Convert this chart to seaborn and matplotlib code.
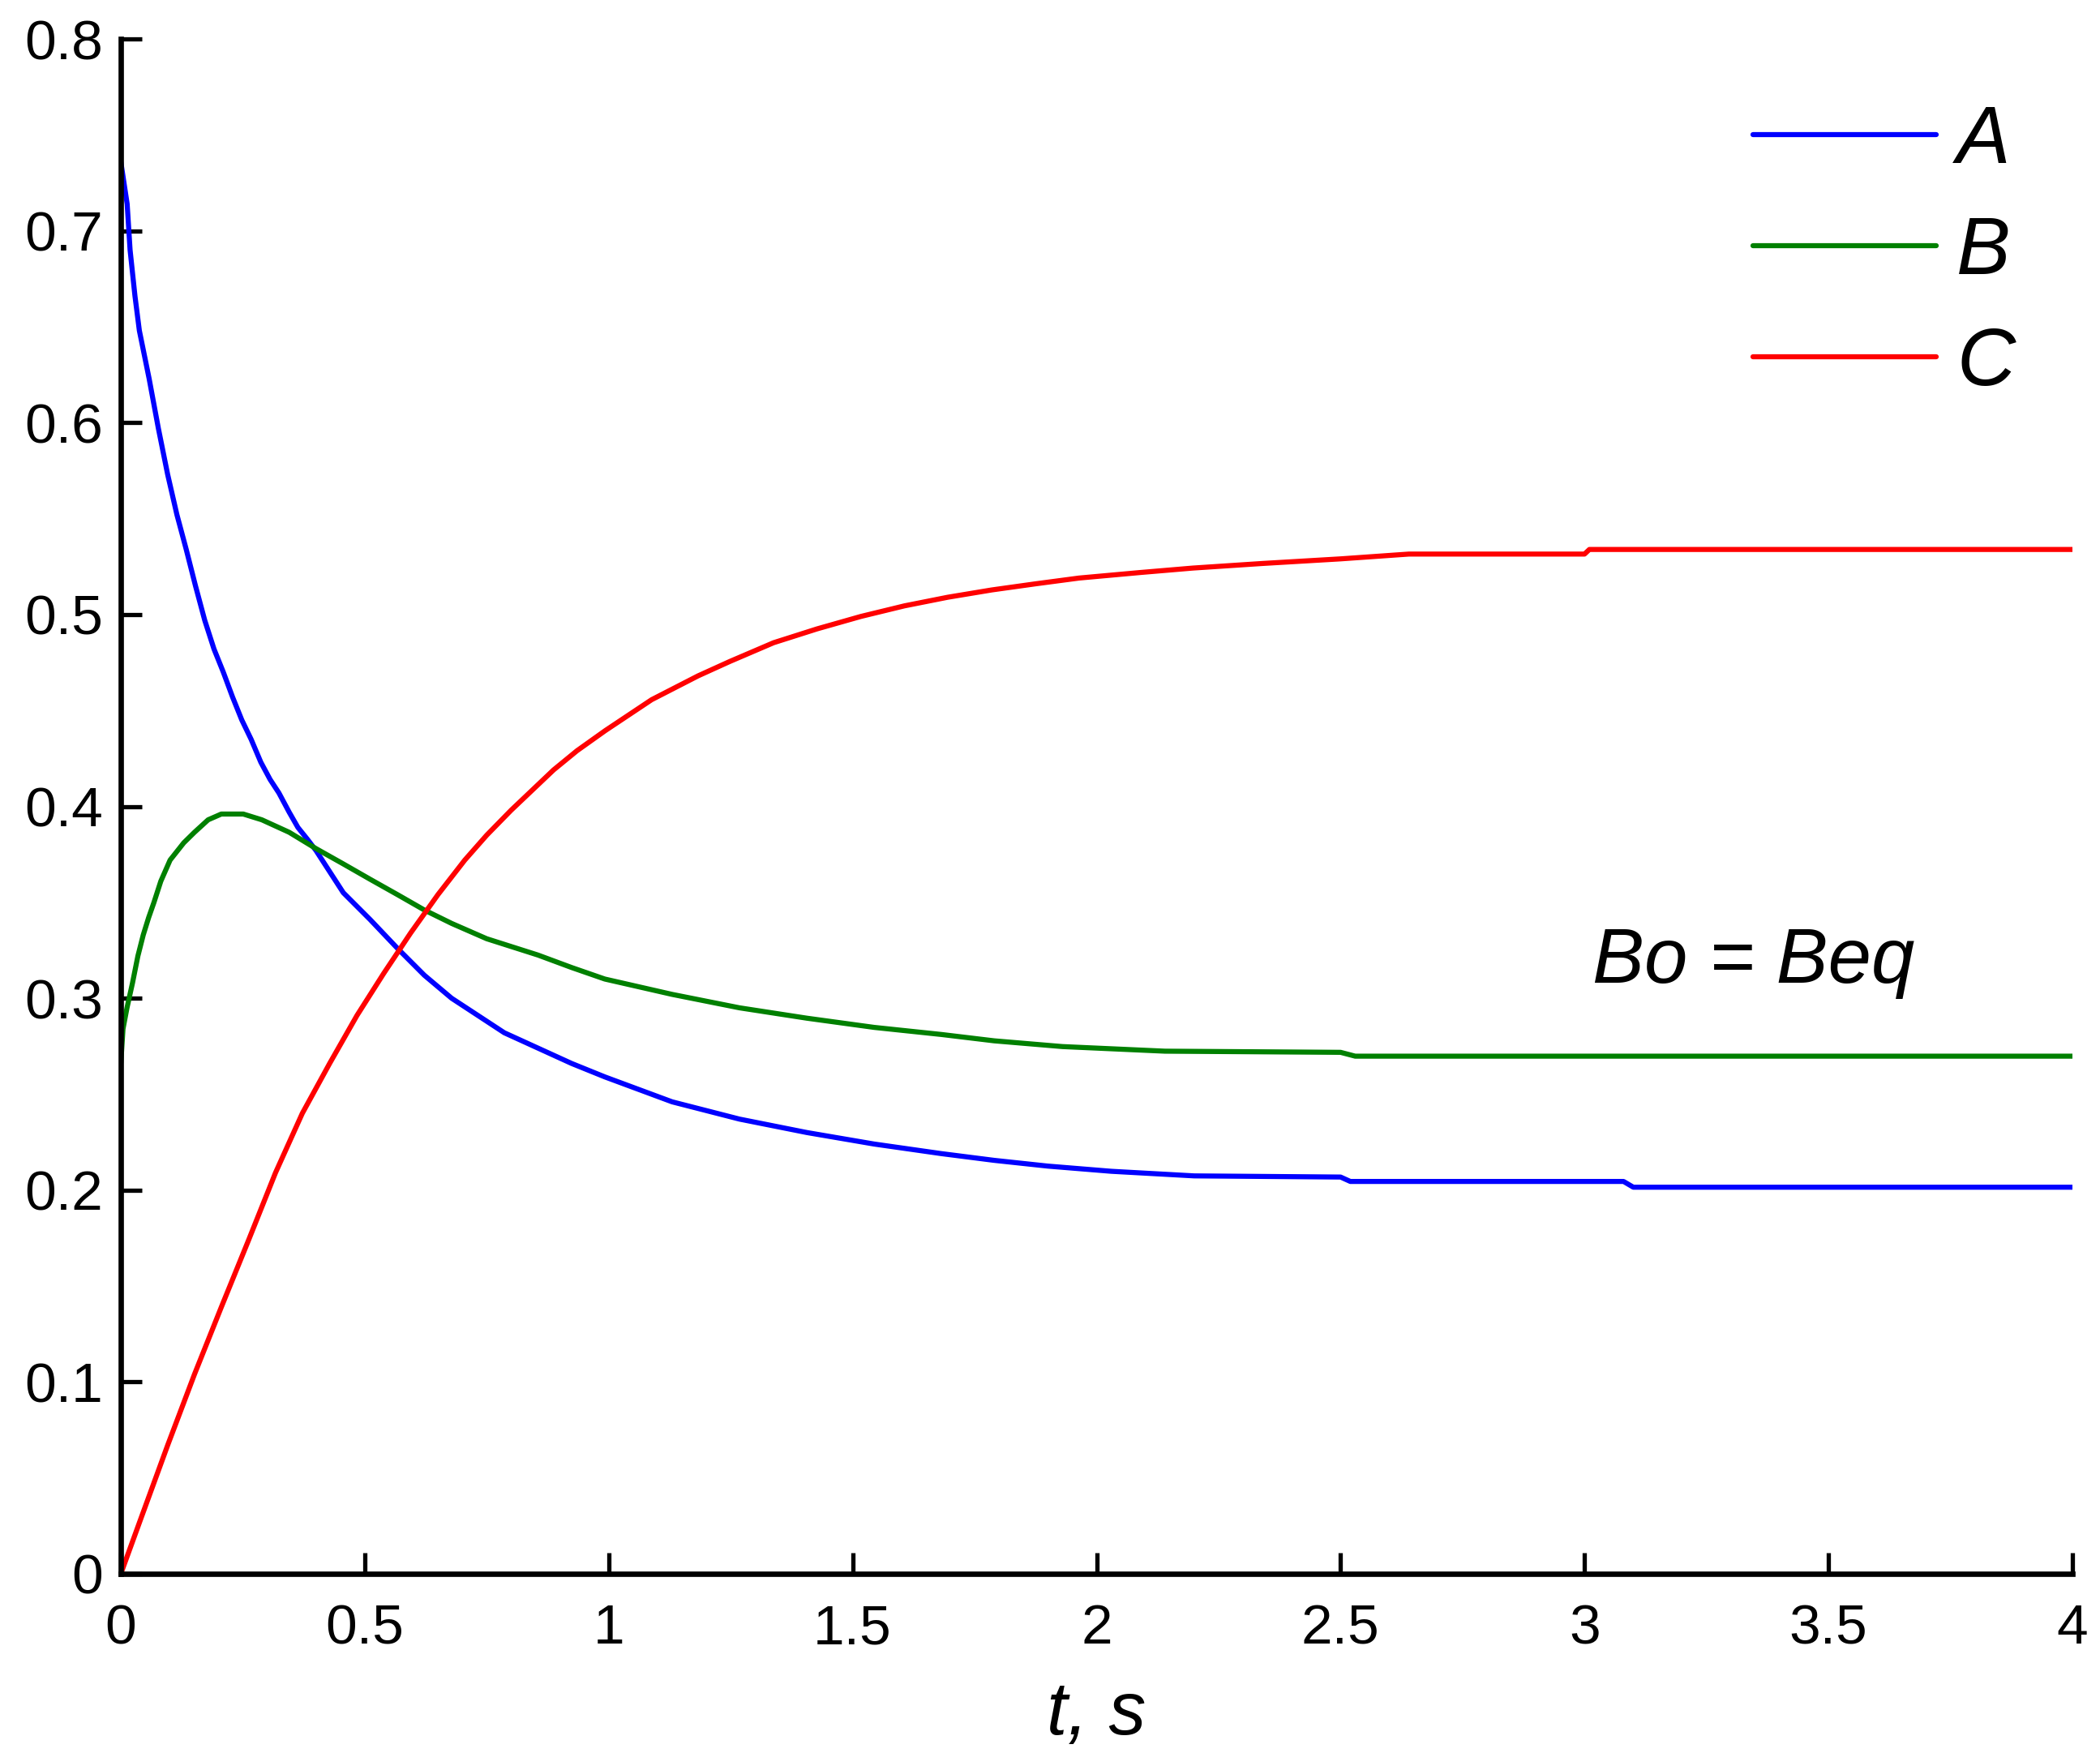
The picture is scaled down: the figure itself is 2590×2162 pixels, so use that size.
import pandas as pd
import matplotlib
matplotlib.use("Agg")
import matplotlib.pyplot as plt
import seaborn as sns

# Curvas (t em s)
t_a = [0, 0.013, 0.019, 0.029, 0.038, 0.058, 0.077, 0.096, 0.115, 0.134, 0.153, 0.172,
       0.191, 0.210, 0.229, 0.248, 0.267, 0.287, 0.306, 0.324, 0.345, 0.363, 0.382, 0.4,
       0.456, 0.511, 0.567, 0.622, 0.678, 0.75, 0.786, 0.855, 0.924, 0.992, 1.13, 1.268,
       1.406, 1.544, 1.682, 1.79, 1.9, 2.03, 2.2, 2.5, 2.52, 3.08, 3.1, 4.0]
a = [0.736, 0.714, 0.69, 0.666, 0.648, 0.623, 0.597, 0.573, 0.552, 0.534, 0.515, 0.497,
     0.482, 0.470, 0.457, 0.445, 0.435, 0.423, 0.414, 0.407, 0.397, 0.389, 0.383, 0.377,
     0.355, 0.341, 0.326, 0.312, 0.300, 0.288, 0.282, 0.274, 0.266, 0.259, 0.246, 0.237,
     0.230, 0.224, 0.219, 0.2155, 0.2125, 0.2098, 0.2074, 0.2068, 0.2045, 0.2045, 0.2015, 0.2015]

t_b = [0, 0.0045, 0.0127, 0.024, 0.035, 0.046, 0.057, 0.068, 0.082, 0.101, 0.129, 0.151,
       0.179, 0.206, 0.251, 0.289, 0.345, 0.4, 0.456, 0.511, 0.567, 0.622, 0.678, 0.75,
       0.855, 0.924, 0.992, 1.13, 1.268, 1.406, 1.544, 1.682, 1.79, 1.93, 2.14, 2.5, 2.53, 4.0]
b = [0.266, 0.284, 0.295, 0.308, 0.322, 0.333, 0.342, 0.350, 0.361, 0.372, 0.381, 0.3865,
     0.393, 0.396, 0.396, 0.393, 0.3865, 0.378, 0.370, 0.362, 0.354, 0.346, 0.339, 0.331,
     0.3225, 0.316, 0.31, 0.302, 0.295, 0.2896, 0.2848, 0.2811, 0.2778, 0.2748, 0.2724,
     0.2718, 0.2698, 0.2698]

t_c = [0, 0.04, 0.096, 0.151, 0.206, 0.262, 0.317, 0.372, 0.428, 0.484, 0.539, 0.594,
       0.65, 0.705, 0.75, 0.8, 0.887, 0.935, 0.993, 1.088, 1.183, 1.248, 1.338, 1.427,
       1.517, 1.606, 1.695, 1.785, 1.875, 1.964, 2.09, 2.197, 2.34, 2.5, 2.64, 3.0, 3.01, 4.0]
c = [0.0, 0.028, 0.067, 0.104, 0.139, 0.174, 0.209, 0.240, 0.266, 0.291, 0.313, 0.334,
     0.354, 0.372, 0.385, 0.398, 0.419, 0.429, 0.4395, 0.4556, 0.468, 0.4755, 0.4853, 0.4925,
     0.4990, 0.5045, 0.509, 0.5128, 0.516, 0.519, 0.5219, 0.5242, 0.5266, 0.529, 0.5315,
     0.5315, 0.5339, 0.5339]

series = ["A", "B", "C"]
cores = {"A": "#0000ff", "B": "#008000", "C": "#ff0000"}

x_ticks = [0, 0.5, 1, 1.5, 2, 2.5, 3, 3.5, 4]
x_labels = ["0", "0.5", "1", "1.5", "2", "2.5", "3", "3.5", "4"]
y_ticks = [0, 0.1, 0.2, 0.3, 0.4, 0.5, 0.6, 0.7, 0.8]
y_labels = ["0", "0.1", "0.2", "0.3", "0.4", "0.5", "0.6", "0.7", "0.8"]

# tabela longa para o seaborn
df = pd.concat([
    pd.DataFrame({"t": t_a, "v": a, "serie": "A"}),
    pd.DataFrame({"t": t_b, "v": b, "serie": "B"}),
    pd.DataFrame({"t": t_c, "v": c, "serie": "C"}),
], ignore_index=True)

sns.set_theme(style="ticks")
plt.rcParams["font.family"] = ["Liberation Sans", "DejaVu Sans"]
plt.rcParams["text.color"] = "black"
plt.rcParams["axes.labelcolor"] = "black"
plt.rcParams["xtick.color"] = "black"
plt.rcParams["ytick.color"] = "black"

fig = plt.figure(figsize=(25.9, 21.62), dpi=100)
ax = fig.add_axes([149 / 2590, 1 - 1941 / 2162, 2407 / 2590, 1893 / 2162])

sns.lineplot(data=df, x="t", y="v", hue="serie", hue_order=series, palette=cores,
             linewidth=4.5, sort=False, estimator=None, ax=ax)

ax.set_xlim(0, 4)
ax.set_ylim(0, 0.8)
ax.set_xticks(x_ticks)
ax.set_xticklabels(x_labels)
ax.set_yticks(y_ticks)
ax.set_yticklabels(y_labels)
ax.tick_params(axis="both", direction="in", length=19, width=3.8, colors="black",
               labelsize=50)
ax.tick_params(axis="x", pad=26)
ax.tick_params(axis="y", pad=16)

for lado in ["top", "right"]:
    ax.spines[lado].set_visible(False)
for lado in ["left", "bottom"]:
    ax.spines[lado].set_linewidth(4.8)
    ax.spines[lado].set_color("black")

ax.set_xlabel("t, s", fontsize=66, fontstyle="italic", labelpad=22, color="black")
ax.set_ylabel("")

ax.text(3.016, 0.3081, "Bo = Beq", fontsize=69, fontstyle="italic", ha="left",
        va="baseline", color="black")

leg = ax.legend(loc="upper left", bbox_to_anchor=(2162 / 2590, 1 - 128 / 2162),
                bbox_transform=fig.transFigure, frameon=False, fontsize=72,
                handlelength=2.26, handletextpad=0.25, labelspacing=0.43,
                borderpad=0, borderaxespad=0, title=None)
for txt in leg.get_texts():
    txt.set_fontstyle("italic")
    txt.set_color("black")
for linha in leg.get_lines():
    linha.set_linewidth(4.5)

fig.savefig("out.png", dpi=100, facecolor="white")
